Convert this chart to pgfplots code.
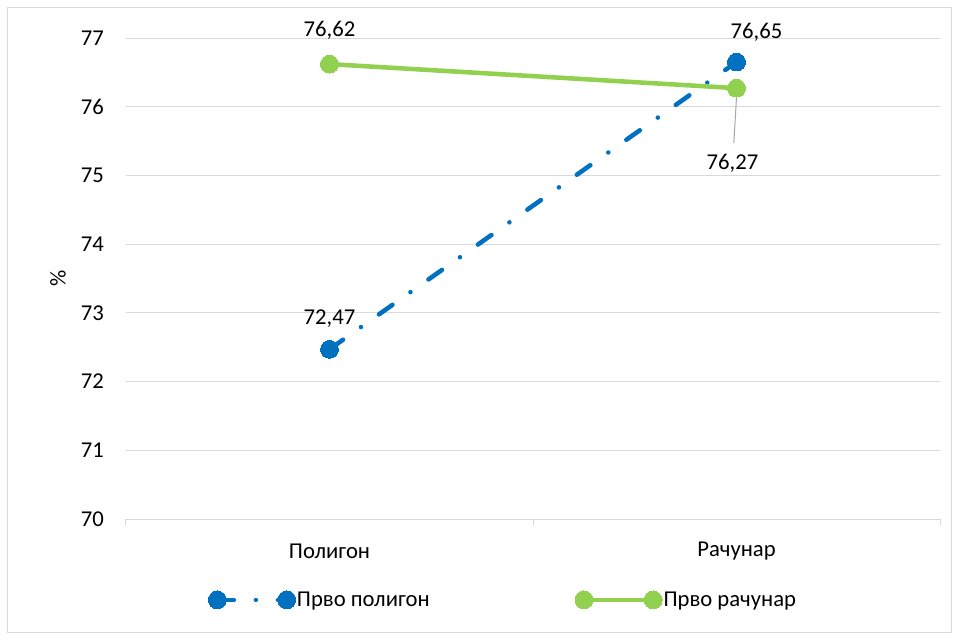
\documentclass[border=0pt]{standalone}
\usepackage{fontspec}
\setmainfont{Carlito}
\usepackage{pgfplots}
\pgfplotsset{compat=1.18}
\definecolor{cblue}{HTML}{0070C0}
\definecolor{cgreen}{HTML}{92D050}
\definecolor{cgrid}{HTML}{D9D9D9}
\begin{document}
\begin{tikzpicture}[font=\fontsize{17}{20}\selectfont, x=1pt, y=1pt]
\fill[white] (-94.5,-90) rectangle (624.75,389.25);
\draw[cgrid, line width=0.75pt] (-88.5,-84.75) rectangle (618.75,383.25);
\begin{axis}[
  at={(0,0)}, anchor=south west,
  scale only axis, width=610.5pt, height=360.75pt,
  xmin=-0.5, xmax=1.5, ymin=70, ymax=77,
  xtick={0,1}, xticklabels={Полигон, Рачунар},
  minor xtick={-0.5,0.5,1.5},
  ytick={70,71,...,77},
  xtick pos=bottom, ytick pos=left,
  tick align=outside,
  major tick length=0pt, minor tick length=4.5pt,
  minor tick style={cgrid, line width=0.75pt},
  axis line style={draw=none},
  ymajorgrids, grid style={cgrid, line width=0.75pt},
  /pgf/number format/assume math mode=true,
  tick label style={font=\fontsize{17}{20}\selectfont},
  label style={font=\fontsize{17}{20}\selectfont},
  yticklabel style={anchor=east, xshift=-13pt},
  xticklabel style={anchor=center, yshift=-24pt},
  ylabel={\%},
  ylabel style={at={(axis description cs:-0.0835,0.5)}, anchor=center},
  legend columns=2,
  legend style={at={(0.463,-0.168)}, anchor=center, draw=none, fill=none,
    font=\fontsize{17}{20}\selectfont,
    /tikz/every even column/.append style={column sep=108pt},
    nodes={inner sep=1pt}},
  legend image code/.code={\draw[#1] plot coordinates {(0pt,0pt) (52pt,0pt)};},
  clip=false,
]
\addplot[cblue, line width=3.4pt, line cap=round,
  dash pattern=on 12.4pt off 16.5pt on 0.01pt off 16.5pt,
  mark=*, mark size=6.7pt, mark options={solid, fill=cblue, draw=cblue, line width=0pt}]
  coordinates {(0,72.47) (1,76.65)};
\addlegendentry{Прво полигон}
\addplot[cgreen, line width=3.4pt, line cap=round,
  mark=*, mark size=6.7pt, mark options={solid, fill=cgreen, draw=cgreen, line width=0pt}]
  coordinates {(0,76.62) (1,76.27)};
\addlegendentry{Прво рачунар}
\node[anchor=center, yshift=23.25pt] at (axis cs:0,72.47) {72,47};
\node[anchor=center, yshift=25.5pt] at (axis cs:0,76.62) {76,62};
\node[anchor=center, xshift=15pt, yshift=22.5pt] at (axis cs:1,76.65) {76,65};
\draw[gray!70, line width=0.75pt] ([yshift=-7pt]axis cs:1,76.27) -- ([xshift=-2pt,yshift=-41pt]axis cs:1,76.27);
\node[anchor=center, xshift=-3pt, yshift=-56pt] at (axis cs:1,76.27) {76,27};
\end{axis}
\end{tikzpicture}
\end{document}
